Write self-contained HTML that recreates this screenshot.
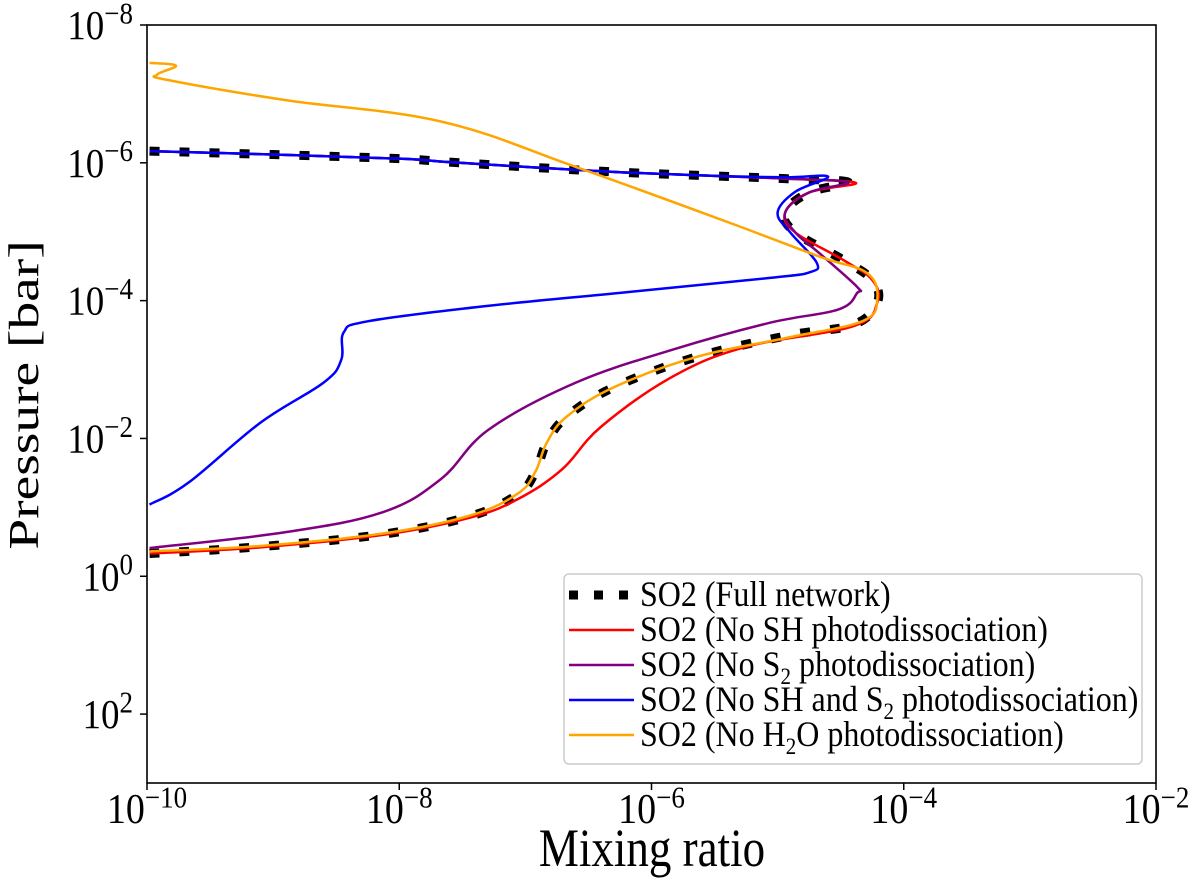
<!DOCTYPE html>
<html><head><meta charset="utf-8"><style>
body{margin:0;background:#fff;}
svg{display:block;font-family:"Liberation Serif",serif;}
</style></head><body>
<svg id="chart" width="1200" height="888">
<g id="plot"></g>
</svg>
<script>
// data (log10 mixing ratio, log10 pressure)
const xTickExps = [-10,-8,-6,-4,-2];
const yTickExps = [-8,-6,-4,-2,0,2];
const fullX = [-9.98,-9,-8,-7.6,-6.9,-6.21,-5.5,-4.94,-4.44,-4.75,-4.94,-4.86,-4.48,-4.25,-4.21,-4.4,-4.9,-5.63,-6.29,-6.67,-6.83,-6.92,-7.06,-7.44,-8.13,-9.1,-9.98];
const fullP = [-6.17,-6.12,-6.06,-6.01,-5.93,-5.86,-5.81,-5.77,-5.72,-5.57,-5.28,-4.99,-4.59,-4.30,-3.97,-3.65,-3.5,-3.19,-2.75,-2.32,-1.94,-1.52,-1.19,-0.87,-0.61,-0.43,-0.33];
const redX = [-9.98,-9,-8,-7.6,-6.9,-6.21,-5.5,-4.94,-4.38,-4.75,-4.94,-4.86,-4.48,-4.25,-4.21,-4.4,-5.25,-5.83,-6.4,-6.71,-7.06,-7.44,-8.13,-9.1,-9.98];
const redP = [-6.17,-6.12,-6.06,-6.01,-5.93,-5.86,-5.81,-5.77,-5.71,-5.57,-5.28,-4.99,-4.59,-4.30,-3.97,-3.63,-3.33,-2.9,-2.17,-1.55,-1.12,-0.85,-0.6,-0.42,-0.33];
const purpleX = [-9.98,-9,-8,-7.6,-6.9,-6.21,-5.5,-4.94,-4.44,-4.75,-4.94,-4.86,-4.67,-4.37,-4.37,-4.52,-5.06,-5.83,-6.6,-7.29,-7.67,-8.13,-8.9,-9.98];
const purpleP = [-6.17,-6.12,-6.06,-6.01,-5.93,-5.86,-5.81,-5.77,-5.72,-5.57,-5.28,-4.99,-4.69,-4.2,-4.11,-3.87,-3.68,-3.29,-2.81,-2.13,-1.41,-0.93,-0.64,-0.41];
const blueX = [-9.98,-9,-8,-7.6,-6.9,-6.21,-5.5,-4.94,-4.6,-4.86,-5.0,-4.9,-4.69,-4.75,-5.06,-6.21,-7.37,-8.25,-8.44,-8.46,-8.6,-9.1,-9.67,-9.98];
const blueP = [-6.17,-6.12,-6.06,-6.01,-5.93,-5.86,-5.81,-5.79,-5.8,-5.58,-5.28,-4.99,-4.55,-4.41,-4.33,-4.12,-3.91,-3.7,-3.54,-3.14,-2.81,-2.23,-1.36,-1.04];
const orangeX = [-9.98,-9.77,-9.92,-9.83,-8.9,-7.67,-6.6,-5.44,-4.67,-4.29,-4.21,-4.33,-4.9,-5.63,-6.29,-6.67,-6.83,-6.92,-7.06,-7.44,-8.13,-9.1,-9.98];
const orangeP = [-7.45,-7.41,-7.28,-7.2,-6.91,-6.6,-5.94,-5.17,-4.64,-4.4,-4.01,-3.7,-3.47,-3.19,-2.75,-2.32,-1.94,-1.52,-1.2,-0.88,-0.62,-0.44,-0.36];

const L=147,R=1156,T=25,B=783;
const xs = e => L + (e+10)*(R-L)/8;
const ys = e => T + (e+8)*(B-T)/11;
const NS='http://www.w3.org/2000/svg';
const svg=document.getElementById('chart');
function mk(tag,attrs,parent){const el=document.createElementNS(NS,tag);for(const k in attrs)el.setAttribute(k,attrs[k]);(parent||svg).appendChild(el);return el;}

function smoothPath(X,P){
  const pts=X.map((x,i)=>[xs(x),ys(P[i])]);
  let d='M'+pts[0][0]+','+pts[0][1];
  for(let i=0;i<pts.length-1;i++){
    const p0=pts[Math.max(0,i-1)],p1=pts[i],p2=pts[i+1],p3=pts[Math.min(pts.length-1,i+2)];
    const t=0.18;
    const c1=[p1[0]+(p2[0]-p0[0])*t,p1[1]+(p2[1]-p0[1])*t];
    const c2=[p2[0]-(p3[0]-p1[0])*t,p2[1]-(p3[1]-p1[1])*t];
    d+=` C${c1[0]},${c1[1]} ${c2[0]},${c2[1]} ${p2[0]},${p2[1]}`;
  }
  return d;
}
const plot=document.getElementById('plot');
let el;
el=mk('path',{d:smoothPath(fullX,fullP),fill:'none',stroke:'#000','stroke-width':9,'stroke-dasharray':'10 20'},plot);


el=mk('path',{d:smoothPath(redX,redP),fill:'none',stroke:'#ff0000','stroke-width':2.5},plot);


el=mk('path',{d:smoothPath(purpleX,purpleP),fill:'none',stroke:'#800080','stroke-width':2.5},plot);


el=mk('path',{d:smoothPath(blueX,blueP),fill:'none',stroke:'#0000ff','stroke-width':2.5},plot);


el=mk('path',{d:smoothPath(orangeX,orangeP),fill:'none',stroke:'#ffa500','stroke-width':2.5},plot);



el=mk('rect',{x:L,y:T,width:R-L,height:B-T,fill:'none',stroke:'#000','stroke-width':1.6});



xTickExps.forEach(e=>{
  const x=xs(e);
  let t=mk('line',{x1:x,x2:x,y1:B,y2:B+7,stroke:'#000','stroke-width':1.5});
  
  
  const tx=mk('text',{x:0,y:0,'text-anchor':'middle','font-size':38,transform:`translate(${x},${B+40}) scale(1,1.12)`});
  
  
  tx.innerHTML='10<tspan dy="-14" font-size="27">\u2212'+Math.abs(e)+'</tspan>';
});
yTickExps.forEach(e=>{
  const y=ys(e);
  let t=mk('line',{x1:L-7,x2:L,y1:y,y2:y,stroke:'#000','stroke-width':1.5});
  
  
  const tx=mk('text',{x:0,y:0,'text-anchor':'end','font-size':37,transform:`translate(${L-14},${y+14}) scale(1,1.12)`});
  
  
  const lab=e<0?'\u2212'+Math.abs(e):String(e);
  tx.innerHTML='10<tspan dy="-14" font-size="27">'+lab+'</tspan>';
});
</script>
<script>
const s=document.getElementById('chart');
const NS2='http://www.w3.org/2000/svg';
function t2(attrs,html,name){const el=document.createElementNS(NS2,'text');for(const k in attrs)el.setAttribute(k,attrs[k]);el.innerHTML=html;


s.appendChild(el);return el;}
t2({x:0,y:0,'text-anchor':'middle','font-size':45,transform:'translate(652,866) scale(1,1.2)'},'Mixing ratio','x-axis-title');
t2({x:0,y:0,'text-anchor':'middle','font-size':42,transform:'translate(38,395) rotate(-90) scale(1.32,1)'},'Pressure [bar]','y-axis-title');
const g=document.createElementNS(NS2,'g');


s.appendChild(g);
const box=document.createElementNS(NS2,'rect');
box.setAttribute('x',564);box.setAttribute('y',574);box.setAttribute('width',578);box.setAttribute('height',190);box.setAttribute('rx',5);
box.setAttribute('fill','#fff');box.setAttribute('stroke','#ccc');box.setAttribute('stroke-width',1.5);


g.appendChild(box);
const legColors=['#000','#ff0000','#800080','#0000ff','#ffa500'];
const legLabels=['SO2 (Full network)','SO2 (No SH photodissociation)','SO2 (No S<tspan dy="7" font-size="21">2</tspan><tspan dy="-7"> photodissociation)</tspan>','SO2 (No SH and S<tspan dy="7" font-size="21">2</tspan><tspan dy="-7"> photodissociation)</tspan>','SO2 (No H<tspan dy="7" font-size="21">2</tspan><tspan dy="-7">O photodissociation)</tspan>'];
legLabels.forEach((lab,i)=>{
  const y=595+i*35;
  const ln=document.createElementNS(NS2,'line');
  ln.setAttribute('x1',569);ln.setAttribute('x2',634);ln.setAttribute('y1',y);ln.setAttribute('y2',y);
  ln.setAttribute('stroke',legColors[i]);
  if(i===0){ln.setAttribute('stroke-width',9);ln.setAttribute('stroke-dasharray','9 16');}else ln.setAttribute('stroke-width',2.5);
  
  
  g.appendChild(ln);
  const tx=document.createElementNS(NS2,'text');
  tx.setAttribute('x',0);tx.setAttribute('y',0);tx.setAttribute('font-size',32);
  tx.setAttribute('transform',`translate(640,${y+11}) scale(1,1.12)`);
  tx.innerHTML=lab;
  
  
  g.appendChild(tx);
});
</script>
</body></html>
